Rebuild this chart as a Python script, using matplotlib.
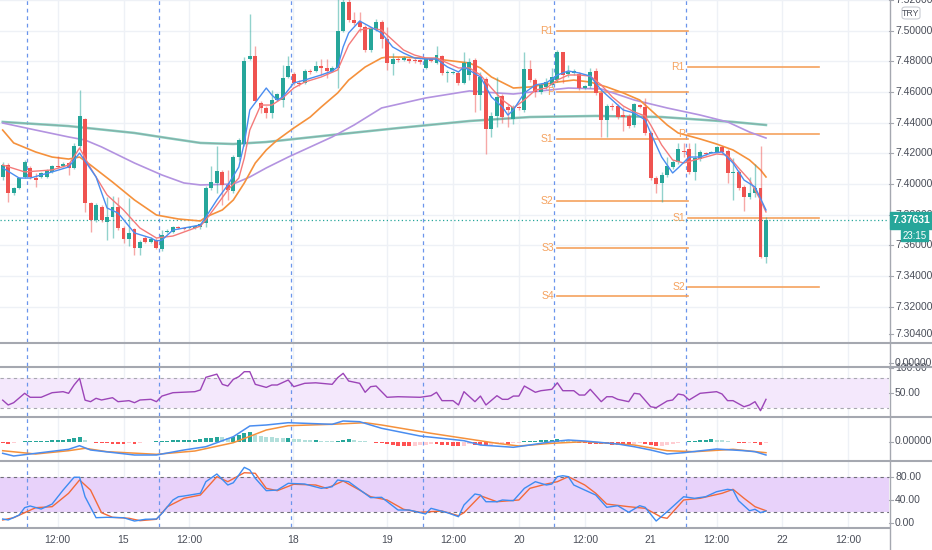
import matplotlib
matplotlib.use("Agg")
import matplotlib.pyplot as plt
from matplotlib.lines import Line2D
from matplotlib.patches import Rectangle, FancyBboxPatch

plt.rcParams['font.family'] = ['Liberation Sans', 'DejaVu Sans']

# ---------------- data (hourly USD/TRY candles) ----------------
opens = [
7.4046, 7.4124, 7.3942, 7.3974, 7.4046, 7.4105, 7.4039, 7.4046, 7.4046, 7.4079,
7.4118, 7.4118, 7.4137, 7.4105, 7.4248, 7.4424, 7.3876, 7.3766, 7.3850, 7.3753,
7.3785, 7.3850, 7.3713, 7.3642, 7.3707, 7.3583, 7.3648, 7.3622, 7.3635, 7.3577,
7.3687, 7.3687, 7.3720, 7.3713, 7.3713, 7.3713, 7.3720, 7.3746, 7.3974, 7.4007,
7.4079, 7.3994, 7.3955, 7.4176, 7.4261, 7.4815, 7.4835, 7.4528, 7.4496, 7.4463,
7.4548, 7.4548, 7.4698, 7.4718, 7.4659, 7.4659, 7.4737, 7.4737, 7.4770, 7.4757,
7.4737, 7.4757, 7.4998, 7.5187, 7.5070, 7.5057, 7.5024, 7.4874, 7.5011, 7.5057,
7.4946, 7.4783, 7.4815, 7.4809, 7.4815, 7.4809, 7.4809, 7.4757, 7.4815, 7.4789,
7.4835, 7.4724, 7.4724, 7.4724, 7.4659, 7.4711, 7.4809, 7.4581, 7.4685, 7.4359,
7.4444, 7.4574, 7.4502, 7.4424, 7.4502, 7.4483, 7.4750, 7.4678, 7.4600, 7.4633,
7.4646, 7.4678, 7.4861, 7.4718, 7.4724, 7.4718, 7.4626, 7.4639, 7.4737, 7.4594,
7.4418, 7.4509, 7.4509, 7.4450, 7.4444, 7.4385, 7.4515, 7.4502, 7.4333, 7.4039,
7.4007, 7.4059, 7.4111, 7.4144, 7.4215, 7.4229, 7.4079, 7.4163, 7.4202, 7.4202,
7.4209, 7.4242, 7.4215, 7.4072, 7.4079, 7.3981, 7.3916, 7.3942, 7.3974, 7.3524,
]
closes = [
7.4124, 7.3942, 7.3974, 7.4039, 7.4144, 7.4046, 7.4026, 7.4072, 7.4092, 7.4118,
7.4111, 7.4131, 7.4105, 7.4248, 7.4444, 7.3876, 7.3766, 7.3863, 7.3766, 7.3785,
7.3850, 7.3713, 7.3642, 7.3681, 7.3583, 7.3622, 7.3622, 7.3642, 7.3583, 7.3668,
7.3694, 7.3720, 7.3713, 7.3707, 7.3720, 7.3726, 7.3740, 7.3974, 7.4013, 7.4085,
7.3994, 7.3961, 7.4176, 7.4287, 7.4802, 7.4835, 7.4541, 7.4496, 7.4463, 7.4548,
7.4587, 7.4691, 7.4770, 7.4659, 7.4652, 7.4737, 7.4731, 7.4770, 7.4757, 7.4737,
7.4757, 7.4998, 7.5187, 7.5070, 7.5050, 7.5024, 7.4874, 7.5011, 7.5057, 7.4946,
7.4789, 7.4815, 7.4809, 7.4822, 7.4802, 7.4802, 7.4796, 7.4815, 7.4802, 7.4841,
7.4724, 7.4731, 7.4731, 7.4659, 7.4789, 7.4796, 7.4581, 7.4698, 7.4359, 7.4444,
7.4568, 7.4437, 7.4483, 7.4502, 7.4496, 7.4750, 7.4678, 7.4600, 7.4646, 7.4665,
7.4698, 7.4861, 7.4711, 7.4731, 7.4737, 7.4626, 7.4639, 7.4731, 7.4594, 7.4418,
7.4509, 7.4502, 7.4437, 7.4437, 7.4378, 7.4522, 7.4502, 7.4333, 7.4039, 7.4000,
7.4059, 7.4118, 7.4144, 7.4229, 7.4209, 7.4079, 7.4170, 7.4209, 7.4196, 7.4209,
7.4242, 7.4209, 7.4072, 7.4079, 7.3974, 7.3916, 7.3942, 7.3974, 7.3524, 7.3763,
]
highs = [
7.4144, 7.4137, 7.3981, 7.4046, 7.4157, 7.4118, 7.4072, 7.4079, 7.4098, 7.4124,
7.4183, 7.4144, 7.4144, 7.4268, 7.4613, 7.4431, 7.3883, 7.3876, 7.3863, 7.3916,
7.3922, 7.3916, 7.3726, 7.3909, 7.3713, 7.3635, 7.3661, 7.3655, 7.3648, 7.3700,
7.3707, 7.3726, 7.3726, 7.3720, 7.3726, 7.3733, 7.3746, 7.3987, 7.4118, 7.4248,
7.4092, 7.4092, 7.4189, 7.4300, 7.4828, 7.5109, 7.4900, 7.4541, 7.4509, 7.4613,
7.4594, 7.4776, 7.4835, 7.4731, 7.4678, 7.4750, 7.4750, 7.4802, 7.4815, 7.4815,
7.4770, 7.5230, 7.5230, 7.5215, 7.5122, 7.5122, 7.5037, 7.5024, 7.5076, 7.5070,
7.5024, 7.4854, 7.4828, 7.4835, 7.4822, 7.4822, 7.4815, 7.4822, 7.4822, 7.4900,
7.4841, 7.4744, 7.4737, 7.4737, 7.4861, 7.4822, 7.4822, 7.4731, 7.4698, 7.4470,
7.4698, 7.4587, 7.4522, 7.4515, 7.4509, 7.4861, 7.4809, 7.4691, 7.4659, 7.4691,
7.4757, 7.4874, 7.4861, 7.4776, 7.4750, 7.4731, 7.4646, 7.4757, 7.4757, 7.4607,
7.4522, 7.4528, 7.4522, 7.4502, 7.4457, 7.4528, 7.4522, 7.4561, 7.4346, 7.4052,
7.4079, 7.4176, 7.4157, 7.4268, 7.4268, 7.4268, 7.4268, 7.4222, 7.4209, 7.4215,
7.4248, 7.4248, 7.4229, 7.4170, 7.4092, 7.3994, 7.4046, 7.4131, 7.4248, 7.3785,
]
lows = [
7.4026, 7.3883, 7.3929, 7.3968, 7.4039, 7.4033, 7.3981, 7.4039, 7.4039, 7.4072,
7.4105, 7.4111, 7.4059, 7.4098, 7.4235, 7.3818, 7.3687, 7.3753, 7.3753, 7.3635,
7.3648, 7.3700, 7.3616, 7.3596, 7.3537, 7.3537, 7.3616, 7.3616, 7.3577, 7.3563,
7.3681, 7.3681, 7.3707, 7.3700, 7.3707, 7.3707, 7.3707, 7.3720, 7.3961, 7.3942,
7.3863, 7.3896, 7.3942, 7.4157, 7.4248, 7.4809, 7.4541, 7.4463, 7.4431, 7.4431,
7.4541, 7.4502, 7.4691, 7.4646, 7.4639, 7.4652, 7.4718, 7.4731, 7.4711, 7.4691,
7.4731, 7.4626, 7.4991, 7.5057, 7.5037, 7.4991, 7.4861, 7.4861, 7.4998, 7.4887,
7.4744, 7.4711, 7.4796, 7.4802, 7.4789, 7.4789, 7.4783, 7.4750, 7.4796, 7.4783,
7.4711, 7.4665, 7.4718, 7.4646, 7.4652, 7.4678, 7.4470, 7.4483, 7.4196, 7.4307,
7.4372, 7.4398, 7.4372, 7.4392, 7.4483, 7.4470, 7.4665, 7.4568, 7.4587, 7.4620,
7.4633, 7.4665, 7.4659, 7.4698, 7.4711, 7.4613, 7.4620, 7.4626, 7.4581, 7.4307,
7.4307, 7.4483, 7.4424, 7.4346, 7.4365, 7.4372, 7.4496, 7.4320, 7.4026, 7.3942,
7.3883, 7.4046, 7.4098, 7.4131, 7.4176, 7.4066, 7.4026, 7.4150, 7.4189, 7.4202,
7.4202, 7.4196, 7.4007, 7.3896, 7.3961, 7.3824, 7.3903, 7.3916, 7.3518, 7.3485,
]
last_price = 7.37631
countdown = "23:15"

# moving averages (read at sample bars)
fast_idx = [0,3,5,9,12,14,17,19,21,24,27,28,29,31,36,37,39,41,43,44,45,48,49,50,51,52,53,55,58,60,61,62,63,65,67,69,71,73,75,77,79,81,83,84,87,89,91,92,93,95,97,99,101,103,105,107,109,111,113,115,117,118,120,122,123,125,127,129,131,133,135,137,139]
fast_val = [7.4105,7.4039,7.4039,7.4079,7.4111,7.4202,7.4046,7.3844,7.3811,7.3681,7.3648,7.3629,7.3635,7.3700,7.3733,7.3785,7.3896,7.3994,7.4111,7.4268,7.4483,7.4626,7.4581,7.4548,7.4568,7.4613,7.4659,7.4678,7.4711,7.4737,7.4763,7.4894,7.4985,7.5063,7.5024,7.4985,7.4894,7.4854,7.4822,7.4815,7.4815,7.4763,7.4731,7.4763,7.4698,7.4568,7.4502,7.4450,7.4483,7.4594,7.4646,7.4659,7.4711,7.4737,7.4724,7.4704,7.4613,7.4548,7.4483,7.4463,7.4418,7.4333,7.4176,7.4072,7.4105,7.4176,7.4176,7.4202,7.4209,7.4137,7.4026,7.3981,7.3831]
slow_idx = [0,4,9,12,14,16,19,22,25,28,31,34,36,37,39,41,43,44,45,47,49,51,53,55,58,61,63,65,67,69,71,73,75,77,79,81,83,85,87,89,91,93,95,97,99,101,103,105,107,109,111,113,115,117,118,120,122,124,126,128,130,132,134,136,138,139]
slow_val = [7.4124,7.4079,7.4092,7.4124,7.4235,7.4105,7.3929,7.3831,7.3713,7.3648,7.3661,7.3700,7.3726,7.3766,7.3863,7.3961,7.4039,7.4170,7.4352,7.4515,7.4515,7.4561,7.4626,7.4665,7.4698,7.4744,7.4907,7.5004,7.5017,7.5004,7.4939,7.4874,7.4841,7.4822,7.4822,7.4789,7.4757,7.4757,7.4711,7.4626,7.4548,7.4496,7.4548,7.4613,7.4626,7.4678,7.4711,7.4711,7.4704,7.4646,7.4568,7.4509,7.4470,7.4444,7.4385,7.4255,7.4157,7.4137,7.4157,7.4176,7.4196,7.4189,7.4105,7.4026,7.3896,7.3818]
ema_orange_idx = [0,2,6,9,12,14,16,20,24,28,32,36,37,40,42,44,46,48,50,53,56,58,61,63,66,69,70,73,79,85,87,89,93,96,101,104,107,110,113,116,118,121,123,127,130,133,136,138,139]
ema_orange_val = [7.4352,7.4268,7.4209,7.4176,7.4163,7.4176,7.4124,7.4013,7.3896,7.3798,7.3772,7.3759,7.3785,7.3831,7.3896,7.4007,7.4137,7.4222,7.4287,7.4365,7.4437,7.4502,7.4594,7.4678,7.4763,7.4822,7.4828,7.4828,7.4815,7.4789,7.4757,7.4698,7.4626,7.4633,7.4665,7.4678,7.4665,7.4633,7.4594,7.4548,7.4483,7.4385,7.4333,7.4294,7.4261,7.4222,7.4157,7.4092,7.4046]
ema_purple_idx = [0,6,12,15,18,24,29,33,36,42,45,48,52,60,64,69,77,85,90,93,98,103,109,115,121,127,132,136,139]
ema_purple_val = [7.4398,7.4352,7.4307,7.4287,7.4242,7.4137,7.4059,7.4007,7.3994,7.4000,7.4046,7.4105,7.4176,7.4307,7.4385,7.4496,7.4561,7.4607,7.4594,7.4587,7.4607,7.4626,7.4620,7.4548,7.4496,7.4450,7.4405,7.4339,7.4300]
ema_green_idx = [0,12,24,30,36,42,48,60,72,85,96,108,120,133,139]
ema_green_val = [7.4405,7.4378,7.4333,7.4300,7.4268,7.4261,7.4274,7.4320,7.4365,7.4411,7.4437,7.4444,7.4437,7.4405,7.4385]

# daily pivot levels
pivot1_span = (100.9, 124.8)
pivot1_names = ['R1', 'P', 'S1', 'S2', 'S3', 'S4']
pivot1_vals = [7.5000, 7.4600, 7.4295, 7.3890, 7.3583, 7.3270]
pivot2_span = (124.8, 148.7)
pivot2_names = ['R1', 'P', 'S1', 'S2']
pivot2_vals = [7.4761, 7.4324, 7.3777, 7.3329]

# RSI
rsi_idx = [0,1,2,4,5,7,9,11,12,13,14,15,16,17,18,20,21,23,24,25,27,28,29,31,35,36,37,39,40,41,42,43,44,45,46,48,49,50,52,53,55,57,60,61,62,63,65,66,67,68,70,72,76,78,79,80,82,83,84,86,87,88,90,91,92,93,94,95,97,98,100,101,102,104,105,106,107,109,110,111,112,114,115,116,118,119,121,122,123,124,125,127,130,131,132,133,135,136,137,138,139]
rsi_val = [36,26.5,31,49.4,41.6,41.6,50.6,52.6,49.4,65.7,78.8,36,33,39.6,36.3,40.8,33,35,31,36.3,37.6,33,44,50.6,52.6,56,80.8,87,67,63.7,76.8,82,91.8,91.8,67,61,65.7,65.7,75.5,62.4,69,70,67,80,88.6,73.5,69,51.4,62.4,63.7,41.6,42.7,41.6,44.7,51.4,35,35,26.5,52.6,33,44,26.5,44.7,37.6,37.6,44,44,63.7,51.4,54.5,57.2,70,54.5,54.5,46,46,57.2,33,42.7,42.7,37.6,33,49.4,48,23.1,21.2,34.3,36.3,48,46,36.3,49.4,52.6,48,35,35,23.1,26.5,33,15.3,37.6]

# MACD (values in 1e-3)
macd_idx = [0,2,5,12,14,16,24,28,33,37,42,45,48,52,60,62,65,69,76,84,87,93,96,100,103,106,112,115,118,121,124,130,135,137,139]
macd_val = [-5.9,-7.25,-6.25,-3.9,-2.1,-4.25,-6.75,-6.75,-4.25,-2.6,2.4,7.75,8.25,9.4,8.6,10.25,9.9,6.6,2.75,0.4,-1.75,-2.9,-1.75,-0.1,0.75,0.25,-1.25,-2.6,-4.25,-6.25,-5.6,-3.75,-4.6,-5.1,-6.75]
signal_idx = [0,6,12,15,19,28,35,42,48,52,60,66,69,78,84,90,94,100,106,115,121,126,133,139]
signal_val = [-4.6,-6.25,-4.6,-3.4,-5.1,-6.4,-4.75,-0.6,5.75,7.9,8.6,9.4,8.25,4.1,1.6,-0.9,-2.25,-0.9,-0.1,-1.75,-4.6,-5.1,-3.9,-5.6]
hist_val = [
-0.5,-1,-0.5,-0.25,0,0.15,0.15,0.25,0.5,0.75,
1,1,1.25,1.75,2.5,0.75,-0.25,-0.5,-0.75,-0.75,
-1,-1,-1,-0.75,-1,-0.5,-0.25,-0.15,0,0.25,
0.5,0.75,0.75,1,1,1,1.25,1.75,2,2.5,
2.25,1.75,2.5,3.25,4.5,5,3.5,3,2.5,2.25,
2,1.75,2,1.5,1.25,1,0.75,0.75,0.5,0.25,
0.15,0.5,1,1.25,0.75,0.5,0.25,-0.25,-0.5,-0.75,
-1.25,-1.75,-2,-2.25,-2.25,-2,-1.75,-1.5,-1.25,-1.25,
-1.5,-1.75,-2,-2.25,-2,-1,-1.5,-1.75,-2,-1.5,
-1.25,-1,-1,-0.75,-0.5,0.25,0.5,0.5,0.75,0.75,
1,1.25,1,0.75,0.5,-0.5,-0.75,-1,-1,-1.25,
-1.25,-1.5,-1.5,-1.5,-1.75,-1,-0.75,-1.25,-1.75,-2.25,
-2,-1.5,-1,-0.5,-0.25,0.25,0.5,0.75,1,1.25,
1,0.75,0.25,-0.25,-0.5,-0.75,-0.5,-0.5,-1.5,-0.75,
]

# Stochastic
k_idx = [0,1,3,4,5,7,9,11,13,14,15,17,19,22,24,26,28,29,31,32,33,36,37,39,41,42,44,45,46,48,50,52,55,58,60,61,63,67,69,72,74,77,78,81,83,84,86,87,88,90,91,93,95,97,99,100,101,102,103,104,106,108,110,112,114,116,117,119,121,124,126,128,130,132,133,134,136,137,138,139]
k_val = [7.4,5.7,14.2,26.8,29.7,24.5,33,57,79,79,45.6,9.6,10.3,9.6,3.9,6.9,7.4,17,40,45.6,46.8,51.5,71.4,84.6,65.7,69.6,96,91.4,77.2,56,57,68.6,67.4,60,62.8,74.3,71.4,44,44.6,22.8,22.8,16,25.7,18.2,11.3,31.4,50.3,48.5,37,37,40,38.8,60,71.4,65.7,67.4,80,81.6,80,65.7,57,48.5,27.4,30.2,18.9,30.2,27.4,3.9,19.9,45.6,42.9,45.6,54.2,58.3,57,38.8,21.6,24,18.2,21.1]
d_idx = [0,2,6,9,12,14,16,18,20,23,25,28,30,33,36,39,41,44,46,48,50,53,57,59,62,65,67,70,73,76,80,83,84,87,90,94,96,99,101,103,106,108,110,114,117,120,121,124,127,131,133,135,137,139]
d_val = [5.7,9.6,26.8,28.5,51.5,74.3,57,18.2,10.3,8.6,4.5,6.9,28.5,42.9,48.5,80,71.4,86.8,85.8,60,56,67,65.7,60,72.6,57,45.6,40,24,18.9,21.1,13,18.2,47.3,37,40,60,67.4,71.4,80,65.7,51.5,33,28.5,25.7,10.3,8.6,40,42.9,51.5,58.3,42.9,28.5,21.6]

# axes text
price_ticks = [7.32, 7.34, 7.36, 7.38, 7.40, 7.42, 7.44, 7.46, 7.48, 7.50, 7.52]
time_tick_pos = [10, 22, 34, 52.8, 70, 82, 94, 106, 118, 130, 142, 154]
time_tick_lab = ['12:00', '15', '12:00', '18', '19', '12:00', '20', '12:00', '21', '12:00', '22', '12:00']
session_breaks = [4.45, 28.45, 52.45, 76.45, 100.45, 124.45]

# ---------------- styling ----------------
UP, DN = '#26a69a', '#ef5350'
GRID = '#eef1f6'
TXT = '#4a4e59'
SEP = '#a5a8b0'
PIV = '#f5a25e'

W, H = 932, 550
fig = plt.figure(figsize=(W / 100, H / 100), dpi=100)
fig.patch.set_facecolor('white')
XL, XR = -0.49, 161.4
PR = 889


def add_ax(x0, y0, x1, y1):
    a = fig.add_axes([x0 / W, 1 - y1 / H, (x1 - x0) / W, (y1 - y0) / H])
    a.set_axis_off()
    return a


main = add_ax(0, 0, PR, 342); main.set_ylim(7.2970, 7.5200)
empty = add_ax(0, 343, PR, 366); empty.set_ylim(0, 1)
rsi = add_ax(0, 367, PR, 416); rsi.set_ylim(4.9, 101)
macd = add_ax(0, 417, PR, 460); macd.set_ylim(-9.25, 12.25)
sto = add_ax(0, 461, PR, 527); sto.set_ylim(-6.35, 106.9)
tax = add_ax(0, 527, PR, 550); tax.set_ylim(0, 1)
for a in (main, empty, rsi, macd, sto, tax):
    a.set_xlim(XL, XR)

# grid + session breaks
for a in (main, empty, rsi, macd, sto):
    for t in time_tick_pos:
        a.axvline(t, color=GRID, lw=1, zorder=0)
    for s in session_breaks:
        a.axvline(s, color='#6b95ec', lw=0.9, ls=(0, (3, 3)), zorder=1)
for p in price_ticks:
    main.axhline(p, color=GRID, lw=1, zorder=0)

# candles
for i in range(len(opens)):
    o, c, hi, lo = opens[i], closes[i], highs[i], lows[i]
    col = UP if c >= o else DN
    main.vlines(i, lo, hi, color=col, lw=1, alpha=0.5, zorder=4)
    main.bar(i, max(abs(c - o), 0.0004), bottom=min(o, c), width=0.72, color=col,
             edgecolor='none', zorder=5)

# moving averages
main.plot(ema_green_idx, ema_green_val, color='#84cdbf', lw=1.8, zorder=3)
main.plot(ema_green_idx, ema_green_val, color='#8d8d8d', lw=0.5, alpha=0.7, zorder=3)
main.plot(ema_purple_idx, ema_purple_val, color='#b393e0', lw=1.2, zorder=3)
main.plot(ema_orange_idx, ema_orange_val, color='#f5913c', lw=1.2, zorder=3)
main.plot(slow_idx, slow_val, color='#f47a7a', lw=1.0, zorder=6)
main.plot(fast_idx, fast_val, color='#4a8df0', lw=1.0, zorder=6)

# pivots
for span, names, vals in ((pivot1_span, pivot1_names, pivot1_vals),
                          (pivot2_span, pivot2_names, pivot2_vals)):
    for n, v in zip(names, vals):
        main.plot(span, [v, v], color=PIV, lw=1.2, zorder=2)
        main.text(span[0] - 0.55, v, n, color=PIV, fontsize=7.5, ha='right',
                  va='center', zorder=7)

# current price line
main.axhline(last_price, color=UP, lw=0.9, ls=(0, (1, 2)), zorder=2)

# RSI
rsi.axhspan(20, 80, color='#f4e8fc', zorder=0.5, lw=0)
for lv in (20, 80):
    rsi.axhline(lv, color='#a7a7b0', lw=0.8, ls=(0, (3, 3)), zorder=1)
rsi.plot(rsi_idx, rsi_val, color='#9c45b8', lw=1.0, zorder=5)

# MACD
hcols = []
for i, v in enumerate(hist_val):
    prev = hist_val[i - 1] if i > 0 else v
    if v >= 0:
        hcols.append('#26a69a' if v >= prev else '#b2dfdb')
    else:
        hcols.append('#ff5252' if v <= prev else '#ffcdd2')
hh = [v if abs(v) > 0.2 else (0.2 if v >= 0 else -0.2) for v in hist_val]
macd.bar(range(len(hist_val)), hh, width=0.72, color=hcols, edgecolor='none', zorder=3)
macd.plot(signal_idx, signal_val, color='#f5913c', lw=1.1, zorder=5)
macd.plot(macd_idx, macd_val, color='#4a8df0', lw=1.1, zorder=5)

# Stochastic
sto.axhspan(20, 80, color='#e8d2fa', zorder=0.5, lw=0)
for lv in (20, 80):
    sto.axhline(lv, color='#6f6f78', lw=0.8, ls=(0, (3, 3)), zorder=1)
sto.plot(d_idx, d_val, color='#f36a3a', lw=1.0, zorder=5)
sto.plot(k_idx, k_val, color='#3d8cf2', lw=1.0, zorder=5)

# time axis
for t, lab in zip(time_tick_pos, time_tick_lab):
    tax.text(t, 0.43, lab, ha='center', va='center', fontsize=7.5, color=TXT)


# right price scales
def right_ax(y0, y1, lim):
    a = add_ax(PR, y0, W, y1)
    a.set_xlim(0, W - PR)
    a.set_ylim(*lim)
    return a


def scale_label(a, v, s):
    a.plot([0, 4], [v, v], color=SEP, lw=0.8, clip_on=False)
    a.text(6, v, s, fontsize=7.5, color=TXT, ha='left', va='center')


rmain = right_ax(0, 342, main.get_ylim())
for p in price_ticks:
    scale_label(rmain, p, f"{p:.5f}")
scale_label(rmain, 7.3022, "7.30400")
rempty = right_ax(343, 366, (0, 1))
scale_label(rempty, 0.13, "0.00000")
rr = right_ax(367, 416, rsi.get_ylim())
scale_label(rr, 100, "100.00")
scale_label(rr, 50, "50.00")
rm = right_ax(417, 460, macd.get_ylim())
scale_label(rm, 0, "0.00000")
rs = right_ax(461, 527, sto.get_ylim())
for v in (80, 40, 0):
    scale_label(rs, v, f"{v:.2f}")

# price label boxes
ypix = H - main.transData.transform((0, last_price))[1]
fig.add_artist(Rectangle((890 / W, 1 - (ypix + 8.5) / H), 42 / W, 17 / H,
                         transform=fig.transFigure, color=UP, zorder=10))
fig.text(911 / W, 1 - ypix / H, f"{last_price:.5f}", color='white', fontsize=7.5,
         fontweight='bold', ha='center', va='center', zorder=11)
fig.add_artist(Rectangle((901 / W, 1 - (ypix + 21) / H), 27 / W, 11.5 / H,
                         transform=fig.transFigure, color=UP, zorder=10))
fig.text(914.5 / W, 1 - (ypix + 15.3) / H, countdown, color='white', fontsize=7.0,
         ha='center', va='center', zorder=11)

# currency box
fig.add_artist(FancyBboxPatch((902 / W, 1 - 19 / H), 18 / W, 12 / H,
                              boxstyle="round,pad=0,rounding_size=0.004",
                              transform=fig.transFigure, facecolor='white',
                              edgecolor='#c9ccd3', lw=0.8, zorder=10))
fig.text(911 / W, 1 - 13 / H, "TRY", color=TXT, fontsize=6.3, ha='center',
         va='center', zorder=11)

# pane separators and scale border
for y in (342.5, 366.5, 416.5, 460.5):
    fig.add_artist(Line2D([0, 1], [1 - y / H] * 2, color=SEP, lw=1.5,
                          transform=fig.transFigure, zorder=9))
fig.add_artist(Line2D([0, PR / W], [1 - 527.5 / H] * 2, color=SEP, lw=1.5,
                      transform=fig.transFigure, zorder=9))
fig.add_artist(Line2D([(PR + 0.5) / W] * 2, [0, 1], color=SEP, lw=1.0,
                      transform=fig.transFigure, zorder=9))

fig.savefig("out.png", dpi=100, facecolor='white')
